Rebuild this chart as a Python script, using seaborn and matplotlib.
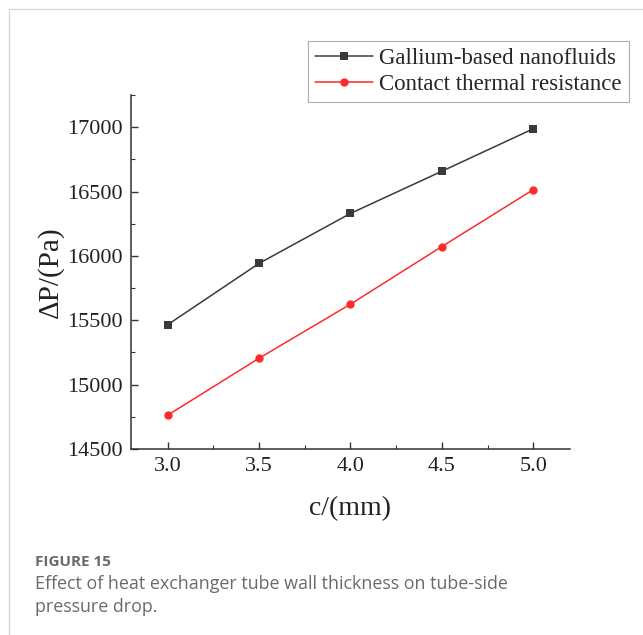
import pandas as pd
import matplotlib.pyplot as plt
import seaborn as sns
from matplotlib.lines import Line2D
from matplotlib.ticker import MultipleLocator

sns.set_style("ticks")
plt.rcParams['font.family'] = ['Liberation Serif', 'DejaVu Serif']

# Datos
espesor = [3.0, 3.5, 4.0, 4.5, 5.0]
galio = [15465, 15942, 16330, 16658, 16988]
contacto = [14762, 15205, 15625, 16073, 16515]

df = pd.DataFrame({'c': espesor * 2,
                   'dp': galio + contacto,
                   'serie': ['Gallium-based nanofluids'] * 5 + ['Contact thermal resistance'] * 5})

fig = plt.figure(figsize=(6.43, 6.35), dpi=100)
ax = fig.add_axes([0.2037, 0.2929, 0.6827, 0.5575])

sns.lineplot(data=df, x='c', y='dp', hue='serie', style='serie',
             palette={'Gallium-based nanofluids': '#3a3a3a', 'Contact thermal resistance': '#ff2a2a'},
             markers={'Gallium-based nanofluids': 's', 'Contact thermal resistance': 'o'},
             dashes=False, markersize=6, markeredgewidth=0, linewidth=1.1, ax=ax)

ax.set_xlim(2.8, 5.2)
ax.set_ylim(14500, 17250)
ax.set_xticks(espesor)
ax.set_yticks([14500, 15000, 15500, 16000, 16500, 17000])
ax.xaxis.set_minor_locator(MultipleLocator(0.25))
ax.yaxis.set_minor_locator(MultipleLocator(250))
ax.tick_params(which='both', direction='in', color='#333333')
ax.tick_params(which='major', length=5, width=1, labelsize=16, labelcolor='#222222', pad=6)
ax.tick_params(which='minor', length=3, width=0.8)
sns.despine(ax=ax)
for s in ['left', 'bottom']:
    ax.spines[s].set_color('#333333')
    ax.spines[s].set_linewidth(1.1)

ax.set_xlabel('c/(mm)', fontsize=20, color='#222222', labelpad=14)
ax.set_ylabel('ΔP/(Pa)', fontsize=21, color='#222222', labelpad=2)

handles, labels = ax.get_legend_handles_labels()
ax.get_legend().remove()
leg = fig.legend(handles, labels, loc='upper right', bbox_to_anchor=(0.978, 0.935),
                 fontsize=16.5, frameon=True, fancybox=False, handlelength=2.5,
                 handletextpad=0.3, borderpad=0.3, labelspacing=0.2, borderaxespad=0)
leg.get_frame().set_edgecolor('#999999')
leg.get_frame().set_linewidth(0.8)

# Marco de la página y pie de figura
fig.add_artist(Line2D([0.014, 1.0], [0.986, 0.986], color='#d8d8d8', linewidth=1))
fig.add_artist(Line2D([0.014, 0.014], [0.0, 0.986], color='#d8d8d8', linewidth=1))
fig.text(0.054, 0.108, 'FIGURE 15', fontsize=11, fontweight='bold', color='#6a6a6a',
         family=['Open Sans', 'DejaVu Sans'])
fig.text(0.054, 0.037, 'Effect of heat exchanger tube wall thickness on tube-side\npressure drop.',
         fontsize=12.9, color='#6a6a6a', family=['Open Sans', 'DejaVu Sans'], linespacing=1.3)

plt.savefig('out.png', dpi=100)
